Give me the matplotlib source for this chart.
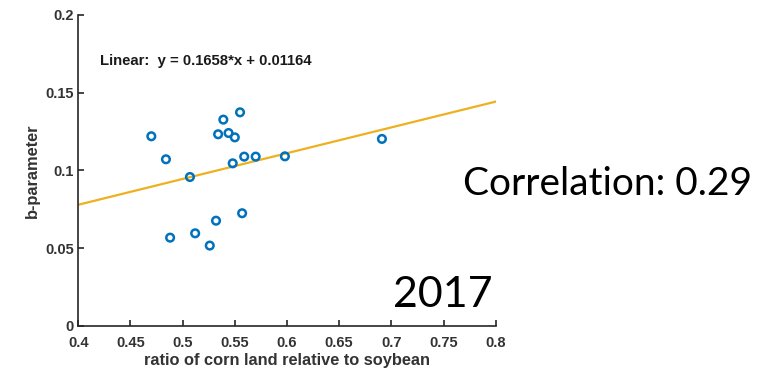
import matplotlib.pyplot as plt

# corn/soybean land ratio vs fitted b-parameter, 2017
ratio = [0.470, 0.484, 0.488, 0.507, 0.512, 0.526, 0.532, 0.534, 0.539, 0.544,
         0.550, 0.548, 0.555, 0.557, 0.559, 0.570, 0.598, 0.691]
b_param = [0.1220, 0.1072, 0.0568, 0.0958, 0.0596, 0.0517, 0.0677, 0.1233, 0.1327, 0.1241,
           0.1213, 0.1046, 0.1374, 0.0725, 0.1089, 0.1089, 0.1091, 0.1203]

slope = 0.1658
intercept = 0.01164
corr = 0.29
year = "2017"

plt.rcParams['font.family'] = ['Liberation Sans', 'DejaVu Sans']

fig = plt.figure(figsize=(7.79, 3.70), dpi=100)
ax = fig.add_axes([0.1005, 0.119, 0.5358, 0.8405])

fit_x = [0.4, 0.8]
fit_y = [slope * v + intercept for v in fit_x]
ax.plot(fit_x, fit_y, color='#EDB120', lw=1.6, zorder=2)
ax.scatter(ratio, b_param, s=30, facecolors='none', edgecolors='#0072BD',
           linewidths=1.8, zorder=3)

ax.set_xlim(0.4, 0.8)
ax.set_ylim(0, 0.2)
ax.set_xticks([0.4, 0.45, 0.5, 0.55, 0.6, 0.65, 0.7, 0.75, 0.8])
ax.set_xticklabels(['0.4', '0.45', '0.5', '0.55', '0.6', '0.65', '0.7', '0.75', '0.8'])
ax.set_yticks([0, 0.05, 0.1, 0.15, 0.2])
ax.set_yticklabels(['0', '0.05', '0.1', '0.15', '0.2'])

for side in ['top', 'right']:
    ax.spines[side].set_visible(False)
for side in ['left', 'bottom']:
    ax.spines[side].set_color('#262626')
    ax.spines[side].set_linewidth(1.2)
ax.tick_params(direction='in', length=4, width=1.2, color='#262626',
               labelsize=10.5, labelcolor='#333333')
ax.tick_params(axis='x', pad=7)
ax.tick_params(axis='y', pad=3)
for lbl in ax.get_xticklabels() + ax.get_yticklabels():
    lbl.set_fontweight('bold')

ax.set_xlabel('ratio of corn land relative to soybean', fontsize=11.8,
              fontweight='bold', color='#333333', labelpad=2.5)
ax.set_ylabel('b-parameter', fontsize=11.8, fontweight='bold', color='#333333',
              labelpad=4)

ax.text(0.053, 0.839, f'Linear:  y = {slope}*x + {intercept}', transform=ax.transAxes,
        fontsize=10.7, fontweight='bold', color='#1a1a1a', va='baseline')

fig.text(0.594, 0.473, f'Correlation: {corr}', family=['Lato', 'DejaVu Sans'],
         fontsize=28, color='black', va='baseline')
fig.text(0.505, 0.170, year, family=['Lato', 'DejaVu Sans'],
         fontsize=31, color='black', va='baseline')

fig.savefig('out.png', dpi=100)
